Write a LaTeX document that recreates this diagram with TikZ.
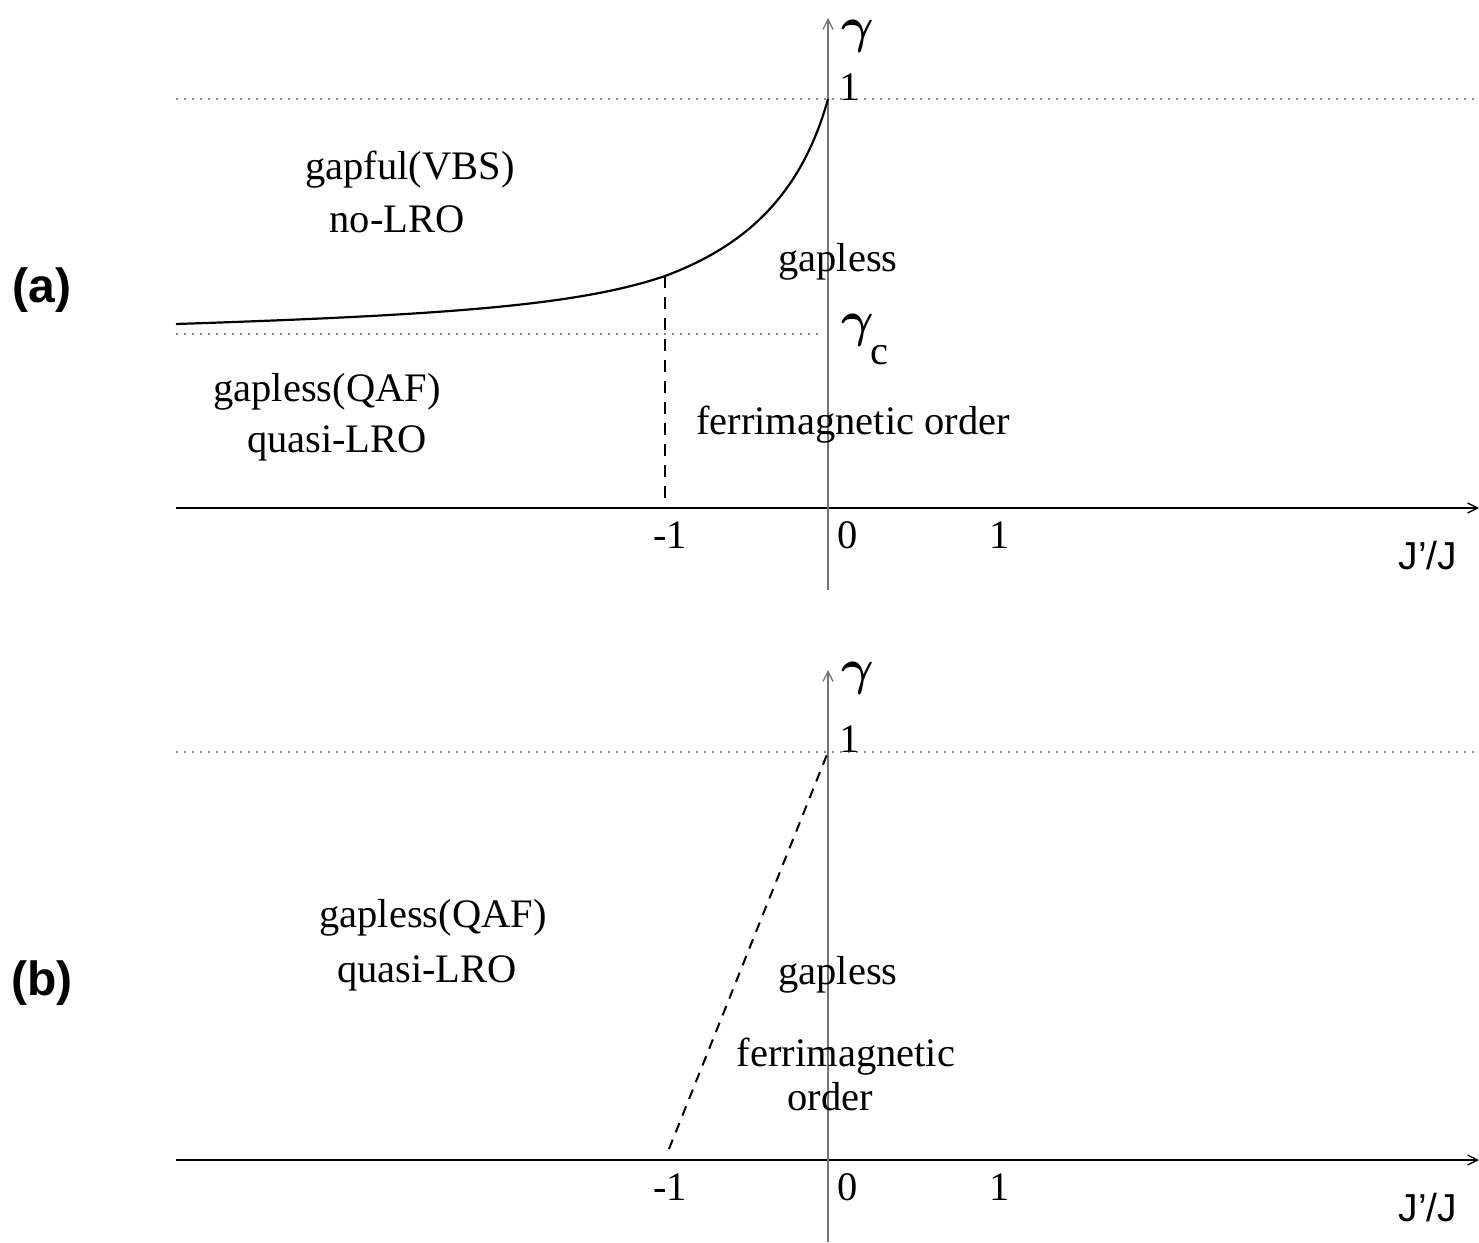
\documentclass[tikz,border=0pt]{standalone}
\usepackage{graphicx}
\usepackage{fontspec}
\setmainfont{Liberation Serif}
\setsansfont{Liberation Sans}
\usetikzlibrary{arrows.meta}
\newcommand{\biggam}{\scalebox{5}{$\boldsymbol{\gamma}$}}
\providecommand{\boldsymbol}[1]{\mbox{\boldmath$#1$}}

\begin{document}
\begin{tikzpicture}[x=1pt,y=-1pt,>={Straight Barb[length=10pt,width=10pt]},
  txt/.style={inner sep=0pt,font=\fontsize{40.5}{46}\selectfont},
  gam/.style={inner sep=0pt,anchor=base},
  lab/.style={inner sep=0pt,font=\fontsize{48}{54}\selectfont\sffamily\bfseries},
  unit/.style={inner sep=0pt,anchor=base,font=\fontsize{39}{44}\selectfont\sffamily},
  ax/.style={line width=1.3pt},
  yax/.style={line width=1.3pt,black!55},
  dots/.style={line width=1.6pt,black!45,dash pattern=on 1.6pt off 6.4pt},
  bound/.style={line width=2pt,dash pattern=on 12pt off 9pt}]
\useasboundingbox (0,0) rectangle (1479,1242);
% (a)
\coordinate (xa0) at (176,508); \coordinate (xa1) at (1479,508);
\coordinate (ya0) at (828,590); \coordinate (ya1) at (828,18);
\coordinate (oa0) at (176,99); \coordinate (oa1) at (1479,99);
\coordinate (ga0) at (176,334); \coordinate (ga1) at (822,334);
\coordinate (ca0) at (176,324); \coordinate (cam) at (665,276); \coordinate (ca1) at (828,99);
\coordinate (da) at (665,508);
\draw[dots] (oa0)--(oa1); \draw[dots] (ga0)--(ga1);
\draw[ax,->] (xa0)--(xa1); \draw[yax,->] (ya0)--(ya1);
\draw[line width=2.2pt] (ca0) .. controls (450,315) and (580,305) .. (cam)
  .. controls (740,248) and (800,200) .. (ca1);
\draw[bound] (cam)--(da);
\node[gam] (gama) at (858,42) {\biggam};
\node[txt,anchor=base] (onea) at (850,100) {1};
\node[gam] (gamc) at (858,336) {\biggam};
\node[txt,anchor=base] (gamcsub) at (879,364) {c};
\node[txt] (vbs) at (410,170) {gapful(VBS)};
\node[txt] (nolro) at (397,219) {no-LRO};
\node[txt] (glessa) at (838,262) {gapless};
\node[txt] (qafa) at (327,392) {gapless(QAF)};
\node[txt] (qlroa) at (337,443) {quasi-LRO};
\node[txt] (ferria) at (853,425) {ferrimagnetic order};
\node[txt,anchor=base] (ma) at (670,548) {-1};
\node[txt,anchor=base] (za) at (848,548) {0};
\node[txt,anchor=base] (pa) at (1000,548) {1};
\node[unit] (ja) at (1428,569) {J’/J};
\node[lab] (laba) at (42,290) {(a)};
% (b)
\coordinate (xb0) at (176,1160); \coordinate (xb1) at (1479,1160);
\coordinate (yb0) at (828,1242); \coordinate (yb1) at (828,670);
\coordinate (ob0) at (176,752); \coordinate (ob1) at (1479,752);
\coordinate (db0) at (669,1149); \coordinate (db1) at (828,752);
\draw[dots] (ob0)--(ob1);
\draw[ax,->] (xb0)--(xb1); \draw[yax,->] (yb0)--(yb1);
\draw[bound,dash pattern=on 10pt off 8pt] (db0)--(db1);
\node[gam] (gamb) at (858,684) {\biggam};
\node[txt,anchor=base] (oneb) at (850,752) {1};
\node[txt] (qafb) at (433,918) {gapless(QAF)};
\node[txt] (qlrob) at (427,973) {quasi-LRO};
\node[txt] (glessb) at (838,975) {gapless};
\node[txt] (ferrib) at (846,1057) {ferrimagnetic};
\node[txt] (orderb) at (830,1097) {order};
\node[txt,anchor=base] (mb) at (670,1200) {-1};
\node[txt,anchor=base] (zb) at (848,1200) {0};
\node[txt,anchor=base] (pb) at (1000,1200) {1};
\node[unit] (jb) at (1428,1221) {J’/J};
\node[lab] (labb) at (42,983) {(b)};
\end{tikzpicture}
\end{document}
